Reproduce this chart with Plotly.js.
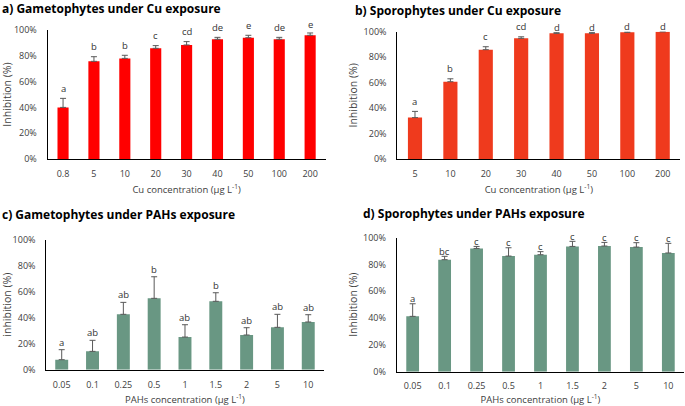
<!DOCTYPE html>
<html>
<head>
<meta charset="utf-8">
<script src="https://cdn.plot.ly/plotly-3.0.1.min.js"></script>
<style>html,body{margin:0;padding:0;background:#fff;}#chart{width:685px;height:406px;}</style>
</head>
<body>
<div id="chart"></div>
<script>
// ---- Data ----
const cuGametoConc = ["0.8", "5", "10", "20", "30", "40", "50", "100", "200"];
const cuGametoMean = [40.0, 75.7, 78.0, 85.8, 88.4, 92.8, 94.0, 92.8, 95.9];
const cuGametoErr  = [7.0, 3.6, 2.4, 2.1, 2.6, 1.5, 1.9, 1.5, 1.8];
const cuGametoLetters = ["a", "b", "b", "c", "cd", "de", "e", "de", "e"];

const cuSporoConc = ["5", "10", "20", "30", "40", "50", "100", "200"];
const cuSporoMean = [32.5, 60.7, 85.9, 94.8, 98.7, 98.7, 99.5, 100.0];
const cuSporoErr  = [4.9, 2.3, 2.3, 1.2, 0.5, 0.8, 0.5, 0.0];
const cuSporoLetters = ["a", "b", "c", "cd", "d", "d", "d", "d"];

const pahGametoConc = ["0.05", "0.1", "0.25", "0.5", "1", "1.5", "2", "5", "10"];
const pahGametoMean = [7.7, 14.1, 42.6, 54.9, 25.1, 52.6, 26.7, 32.6, 36.7];
const pahGametoErr  = [7.7, 8.5, 9.2, 16.6, 9.5, 6.6, 5.6, 10.0, 5.6];
const pahGametoLetters = ["a", "ab", "ab", "b", "ab", "b", "ab", "ab", "ab"];

const pahSporoConc = ["0.05", "0.1", "0.25", "0.5", "1", "1.5", "2", "5", "10"];
const pahSporoMean = [41.3, 83.6, 92.0, 86.3, 87.3, 93.5, 93.8, 93.0, 88.6];
const pahSporoErr  = [9.4, 2.5, 1.5, 6.2, 2.3, 3.8, 2.7, 3.3, 7.2];
const pahSporoLetters = ["a", "bc", "c", "c", "c", "c", "c", "c", "c"];

const yTicks = [0, 20, 40, 60, 80, 100];

// ---- Styling ----
const FONT = "Open Sans, Liberation Sans, sans-serif";
const TXT = "#404040";
const H = 406;
const panels = [
  {x: cuGametoConc, y: cuGametoMean, e: cuGametoErr, lab: cuGametoLetters, color: "#FF0000", w: 0.36,
   xa: "x", ya: "y", xd: [0.0695, 0.4753], yd: [0.6084, 0.9261],
   xt: "Cu concentration (μg L<sup>-1</sup>)", yt: "Inhibition (%)", off: 10, cap: 104.5},
  {x: cuSporoConc, y: cuSporoMean, e: cuSporoErr, lab: cuSporoLetters, color: "#EF3A1D", w: 0.40,
   xa: "x2", ya: "y2", xd: [0.580, 0.9933], yd: [0.6084, 0.9219],
   xt: "Cu concentration (μg L<sup>-1</sup>)", yt: "Inhibition (%)", off: 10, cap: 103.7},
  {x: pahGametoConc, y: pahGametoMean, e: pahGametoErr, lab: pahGametoLetters, color: "#699783", w: 0.42,
   xa: "x3", ya: "y3", xd: [0.0676, 0.4725], yd: [0.0894, 0.4096],
   xt: "PAHs concentration (μg L<sup>-1</sup>)", yt: "inhibition (%)", off: 7.5, cap: 104},
  {x: pahSporoConc, y: pahSporoMean, e: pahSporoErr, lab: pahSporoLetters, color: "#699783", w: 0.40,
   xa: "x4", ya: "y4", xd: [0.5791, 0.999], yd: [0.0845, 0.4145],
   xt: "PAHs concentration (μg L<sup>-1</sup>)", yt: "Inhibition (%)", off: 5, cap: 102}
];

const data = [];
const annotations = [];
const layout = {
  width: 685, height: 406,
  margin: {l: 0, r: 0, t: 0, b: 0},
  paper_bgcolor: "#fff", plot_bgcolor: "#fff",
  showlegend: false,
  font: {family: FONT, size: 9, color: TXT}
};

panels.forEach((p, i) => {
  data.push({
    type: "bar", x: p.x, y: p.y, xaxis: p.xa, yaxis: p.ya,
    width: p.w,
    marker: {color: p.color, line: {width: 0}},
    error_y: {type: "data", array: p.e, arrayminus: p.e.map(() => 0), symmetric: false,
              color: "#595959", thickness: 1, width: 3},
    hoverinfo: "x+y"
  });
  const pxPerUnit = (p.yd[1] - p.yd[0]) * H / 100;
  p.lab.forEach((t, k) => {
    const top = Math.min(p.y[k] + p.e[k], 100);
    const shift = Math.min(p.off, (p.cap - top) * pxPerUnit);
    annotations.push({
      xref: p.xa, yref: p.ya, x: k, y: top, yshift: shift,
      text: t, showarrow: false, yanchor: "middle", xanchor: "center",
      font: {family: FONT, size: 9.5, color: "#333333"}
    });
  });
  const sx = i === 0 ? "" : String(i + 1);
  layout["xaxis" + sx] = {
    domain: p.xd, anchor: p.ya, type: "category",
    range: [-0.5, p.x.length - 0.5],
    showline: true, linecolor: "#000", linewidth: 1,
    showgrid: false, zeroline: false, ticks: "",
    ticklabelstandoff: 6,
    tickfont: {family: FONT, size: 9, color: TXT},
    title: {text: p.xt, font: {family: FONT, size: 9.5, color: TXT}, standoff: 7},
    fixedrange: true
  };
  layout["yaxis" + sx] = {
    domain: p.yd, anchor: p.xa, range: [0, 100],
    tickvals: yTicks, ticktext: yTicks.map(v => v + "%"),
    showline: true, linecolor: "#000", linewidth: 1,
    showgrid: false, zeroline: false, ticks: "",
    ticklabelstandoff: 8,
    tickfont: {family: FONT, size: 9, color: TXT},
    title: {text: p.yt, font: {family: FONT, size: 10.5, color: TXT}, standoff: 3},
    fixedrange: true
  };
});

const titles = [
  {text: "a) Gametophytes under Cu exposure", x: 0.0, y: 0.98},
  {text: "b) Sporophytes under Cu exposure", x: 353 / 685, y: 0.975},
  {text: "c) Gametophytes under PAHs exposure", x: 0.0, y: 1 - 215 / 406},
  {text: "d) Sporophytes under PAHs exposure", x: 361 / 685, y: 1 - 213 / 406}
];
titles.forEach(t => annotations.push({
  xref: "paper", yref: "paper", x: t.x, y: t.y, text: "<b>" + t.text + "</b>",
  showarrow: false, xanchor: "left", yanchor: "middle",
  font: {family: FONT, size: 12, color: "#000"}
}));
layout.annotations = annotations;

Plotly.newPlot("chart", data, layout, {displayModeBar: false, staticPlot: true});
</script>
</body>
</html>
